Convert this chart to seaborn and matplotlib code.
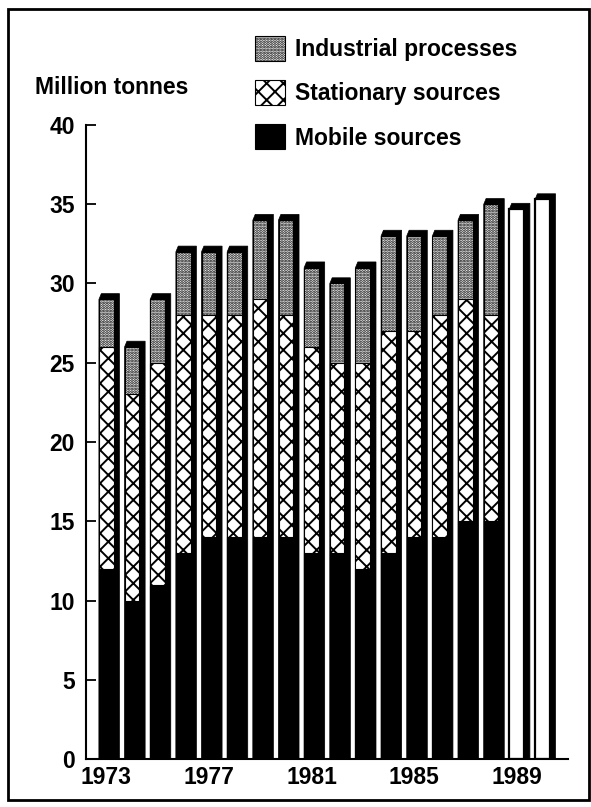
import matplotlib
matplotlib.use("Agg")
import matplotlib.pyplot as plt
from matplotlib.patches import Polygon, Rectangle
import pandas as pd
import seaborn as sns

# sulphur dioxide emissions, million tonnes
years = [str(y) for y in range(1973, 1991)]
mobile = [12, 10, 11, 13, 14, 14, 14, 14, 13, 13, 12, 13, 14, 14, 15, 15]
stationary = [14, 13, 14, 15, 14, 14, 15, 14, 13, 12, 13, 14, 13, 14, 14, 13]
industrial = [3, 3, 4, 4, 4, 4, 5, 6, 5, 5, 6, 6, 6, 5, 5, 7]
later_totals = [34.7, 35.3]  # 1989-1990, totals only
tick_years = years[::4]

df = pd.DataFrame({"year": years[:16], "mobile": mobile,
                   "stationary": stationary, "industrial": industrial})
df["mid"] = df["mobile"] + df["stationary"]
df["total"] = df["mid"] + df["industrial"]
proj = pd.DataFrame({"year": years[16:], "total": later_totals})

sns.set_style("ticks")
plt.rcParams["font.family"] = ["Liberation Sans", "DejaVu Sans"]
plt.rcParams["font.weight"] = "bold"
for k in ["text.color", "axes.labelcolor", "xtick.color", "ytick.color", "axes.edgecolor"]:
    plt.rcParams[k] = "black"
plt.rcParams["hatch.linewidth"] = 1.4

W, H = 591, 807
FS = 16.5
fig = plt.figure(figsize=(W / 100, H / 100), dpi=100)
ax = fig.add_axes([86 / W, 1 - 759 / H, (568 - 86) / W, (759 - 125) / H])

bw = 0.57
common = dict(x="year", order=years, width=bw, saturation=1, edgecolor="black", ax=ax)
sns.barplot(data=df, y="total", color="white", hatch="......", linewidth=0.8,
            label="Industrial processes", **common)
sns.barplot(data=proj, y="total", color="white", linewidth=1.6, **common)
sns.barplot(data=df, y="mid", color="white", hatch="xx", linewidth=0.8,
            label="Stationary sources", **common)
sns.barplot(data=df, y="mobile", color="black", linewidth=0.8,
            label="Mobile sources", **common)

# black drop shadow behind each full bar
dx, dy = 0.23, 0.36
for cont in ax.containers[:2]:
    for bar in cont:
        x0 = bar.get_x()
        x1 = x0 + bar.get_width()
        top = bar.get_height()
        ax.add_patch(Polygon([(x0, top), (x0 + dx * 0.4, top + dy), (x1 + dx, top + dy),
                              (x1 + dx, 0), (x0, 0)], closed=True,
                             facecolor="black", edgecolor="black", lw=0.5, zorder=0.5))

ax.set_xlim(-0.79, 18.0)
ax.set_ylim(0, 40)
ax.set_yticks(range(0, 41, 5))
ax.set_xticks(range(0, len(years), 4))
ax.set_xticklabels(tick_years)
ax.set_xlabel("")
ax.set_ylabel("")
sns.despine(ax=ax)
for s in ["left", "bottom"]:
    ax.spines[s].set_linewidth(1.5)
ax.tick_params(axis="y", direction="in", length=7, width=1.3, pad=8, labelsize=FS)
ax.tick_params(axis="x", length=0, pad=5, labelsize=FS)

handles, labels = ax.get_legend_handles_labels()
ax.legend(handles, labels, loc="upper left", bbox_to_anchor=(255 / W, 1 - 36 / H),
          bbox_transform=fig.transFigure, frameon=False, fontsize=FS,
          handlelength=1.3, handleheight=1.3, handletextpad=0.45,
          labelspacing=0.83, borderpad=0, borderaxespad=0)

fig.text(35 / W, 1 - 88 / H, "Million tonnes", fontsize=FS, va="center", ha="left")

fig.add_artist(Rectangle((8 / W, 1 - 800 / H), 581 / W, 791 / H, transform=fig.transFigure,
                         fill=False, lw=2, edgecolor="black"))

fig.savefig("out.png", dpi=100)
